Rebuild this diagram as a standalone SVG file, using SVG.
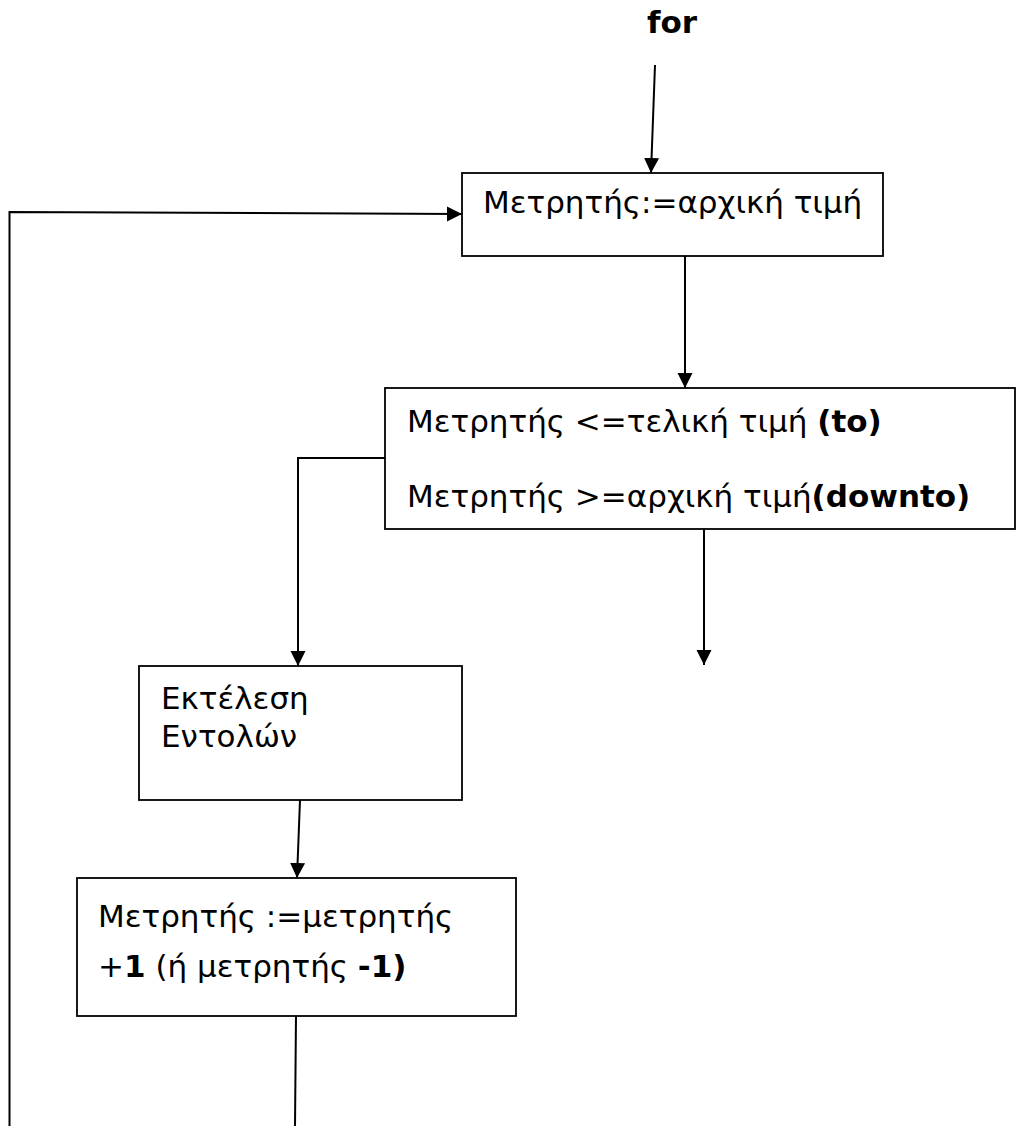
<svg xmlns="http://www.w3.org/2000/svg" width="1016" height="1126" viewBox="0 0 1016 1126">
<style>
text{font-family:"DejaVu Sans","Liberation Sans",sans-serif;font-size:31px;fill:#000}
.b{font-weight:bold}
.box{fill:#fff;stroke:#000;stroke-width:1.8}
.ln{fill:none;stroke:#000;stroke-width:2}
</style>
<defs>
<marker id="ah" markerUnits="userSpaceOnUse" markerWidth="16" markerHeight="16" viewBox="0 0 16 16" refX="15" refY="8" orient="auto">
<path d="M0,0.5 L15,8 L0,15.5 Z" fill="#000"/>
</marker>
</defs>
<rect width="1016" height="1126" fill="#fff"/>
<g id="start"><text x="647" y="33" class="b">for</text></g>
<g id="connectors">
<line class="ln" x1="655" y1="65" x2="651" y2="173" marker-end="url(#ah)"/>
<polyline class="ln" points="295,1126 296,1016"/>
<polyline class="ln" points="9.5,1126 9.5,212 462,214" marker-end="url(#ah)"/>
<line class="ln" x1="685" y1="256" x2="685" y2="388" marker-end="url(#ah)"/>
<polyline class="ln" points="385,458 298,458 298,666" marker-end="url(#ah)"/>
<line class="ln" x1="704" y1="529" x2="704" y2="665" marker-end="url(#ah)"/>
<line class="ln" x1="300" y1="800" x2="297" y2="878" marker-end="url(#ah)"/>
</g>
<g id="init">
<rect class="box" x="462" y="173" width="421" height="83"/>
<text x="483" y="213">Μετρητής:=αρχική τιμή</text>
</g>
<g id="condition">
<rect class="box" x="385" y="388" width="630" height="141"/>
<text x="407" y="432">Μετρητής &lt;=τελική τιμή <tspan class="b">(to)</tspan></text>
<text x="407" y="507">Μετρητής &gt;=αρχική τιμή<tspan class="b">(downto)</tspan></text>
</g>
<g id="execute">
<rect class="box" x="139" y="666" width="323" height="134"/>
<text x="161" y="709">Εκτέλεση</text>
<text x="161" y="747">Εντολών</text>
</g>
<g id="increment">
<rect class="box" x="77" y="878" width="439" height="138"/>
<text x="98" y="927">Μετρητής :=μετρητής</text>
<text x="98" y="977">+<tspan class="b">1</tspan> (ή μετρητής <tspan class="b">-1)</tspan></text>
</g>
</svg>
